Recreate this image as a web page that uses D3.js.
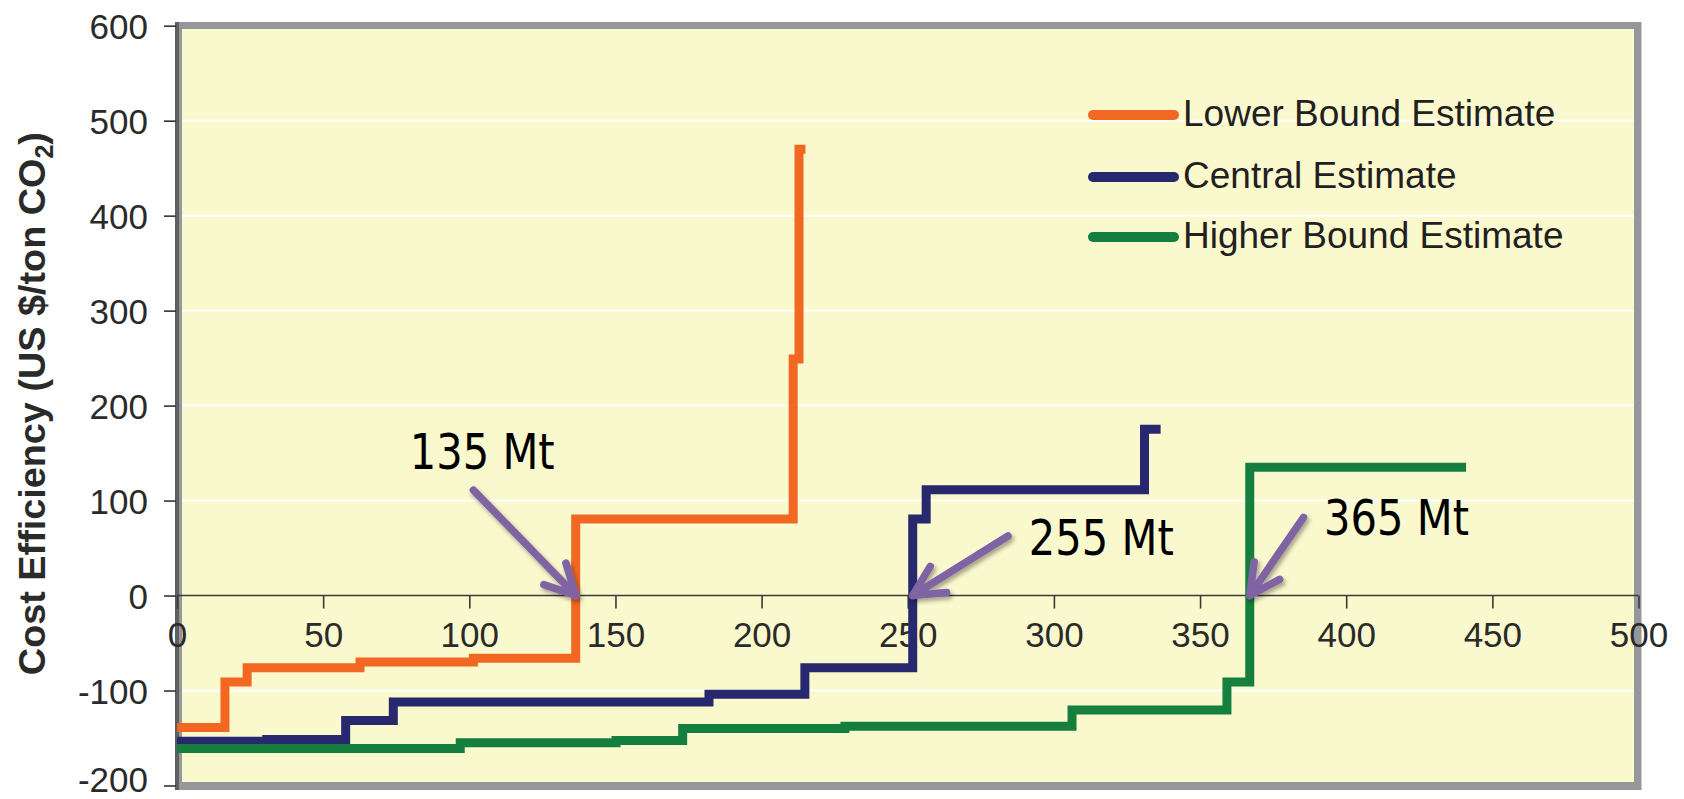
<!DOCTYPE html>
<html>
<head>
<meta charset="utf-8">
<script src="https://cdn.jsdelivr.net/npm/d3@7"></script>
<style>
  html, body { margin: 0; padding: 0; background: #ffffff; }
  svg { display: block; }
</style>
</head>
<body>
<svg id="chart" width="1684" height="799"></svg>
<script>
// ---------------- data ----------------
const xTicks = [0, 50, 100, 150, 200, 250, 300, 350, 400, 450, 500];
const yTicks = [-200, -100, 0, 100, 200, 300, 400, 500, 600];
const gridValues = [-100, 100, 200, 300, 400, 500];

const seriesNames = ["Lower Bound Estimate", "Central Estimate", "Higher Bound Estimate"];
const seriesColors = ["#f26722", "#27286e", "#157f3f"];

// step breakpoints (cumulative Mt) and cost values (US $/ton CO2)
const lowerX   = [0, 16.4, 24, 62.6, 101.4, 136.4, 210.8, 212.8, 215];
const lowerY   = [-139, -91, -76, -70, -66, 80.5, 249, 470, 470];
const centralX = [0, 30.7, 57.7, 74, 182, 214.8, 251.7, 256.3, 331, 336.5];
const centralY = [-153.5, -151.5, -131.5, -112, -104, -76, 80.5, 111.5, 175, 175];
const higherX  = [0, 96.9, 150.2, 173, 228.5, 306.2, 359.2, 367, 441];
const higherY  = [-161, -155, -152.5, -140, -137.5, -120.5, -91, 135, 135];

// annotations (data coordinates)
const annLabels = ["135 Mt", "255 Mt", "365 Mt"];
const annTipX   = [136.5, 251.7, 367];
const annTipY   = [0, 0, 0];
const annTailX  = [101.4, 284.3, 385.4];
const annTailY  = [111, 62.7, 82.3];
const annTextX  = [79.6, 291.4, 392.4];
const annTextY  = [133.4, 42.6, 63.7];

// ---------------- scales ----------------
const svg = d3.select("#chart");
const x = d3.scaleLinear().domain([0, 500]).range([177, 1638.5]);
const y = d3.scaleLinear().domain([-200, 600]).range([785.5, 25.7]);

const tickFont = "'Liberation Sans', Arial, Helvetica, sans-serif";

// ---------------- frame ----------------
const fx0 = x(0) - 2, fx1 = x(500) + 3, fy0 = y(600) - 3.7, fy1 = y(-200) + 4.5;
svg.append("rect")
  .attr("x", fx0).attr("y", fy0)
  .attr("width", fx1 - fx0).attr("height", fy1 - fy0)
  .attr("fill", "#96979a");
svg.append("rect")
  .attr("x", x(0) + 5).attr("y", y(600) + 3.3)
  .attr("width", x(500) - 4.5 - (x(0) + 5)).attr("height", y(-200) - 3.5 - (y(600) + 3.3))
  .attr("fill", "#faf8cd");

// gridlines
svg.append("g").selectAll("line").data(gridValues).join("line")
  .attr("x1", x(0) + 5).attr("x2", x(500) - 4.5)
  .attr("y1", d => y(d)).attr("y2", d => y(d))
  .attr("stroke", "#ffffff").attr("stroke-width", 2);

// left axis line
svg.append("line")
  .attr("x1", x(0)).attr("x2", x(0))
  .attr("y1", fy0).attr("y2", fy1)
  .attr("stroke", "#5e5f61").attr("stroke-width", 4);

// y axis
const yAxis = d3.axisLeft(y).tickValues(yTicks).tickSize(12).tickPadding(16)
  .tickFormat(d => String(d));
const gy = svg.append("g").attr("transform", `translate(${x(0) - 1},0)`).call(yAxis);
gy.select(".domain").remove();
gy.selectAll(".tick line").attr("stroke", "#333").attr("stroke-width", 1.6);
gy.selectAll(".tick text")
  .attr("font-family", tickFont).attr("font-size", 35).attr("fill", "#2a2a2a")
  .attr("dy", d => d === -200 ? "0.18em" : "0.36em");

// x axis at y = 0
const xAxis = d3.axisBottom(x).tickValues(xTicks).tickSize(13).tickPadding(0)
  .tickFormat(d => String(d));
const gx = svg.append("g").attr("transform", `translate(0,${y(0)})`).call(xAxis);
gx.select(".domain").attr("stroke", "#3a3a3a").attr("stroke-width", 1.6)
  .attr("d", `M${x(0)},0H${x(500)}`);
gx.selectAll(".tick line").attr("stroke", "#3a3a3a").attr("stroke-width", 1.6);
gx.selectAll(".tick text")
  .attr("font-family", tickFont).attr("font-size", 35).attr("fill", "#2a2a2a")
  .attr("y", 51).attr("dy", 0);

// y axis title
const title = svg.append("text")
  .attr("transform", `translate(45,${(y(-200) + y(600)) / 2 - 2}) rotate(-90)`)
  .attr("text-anchor", "middle")
  .attr("font-family", tickFont).attr("font-weight", "bold").attr("font-size", 37.8)
  .attr("fill", "#2a2a2a");
title.append("tspan").text("Cost Efficiency (US $/ton CO");
title.append("tspan").attr("font-size", 25).attr("dy", 8).text("2");
title.append("tspan").attr("dy", -8).text(")");

// ---------------- series ----------------
const line = d3.line().x(d => x(d[0])).y(d => y(d[1])).curve(d3.curveStepAfter);
const seriesData = [
  d3.zip(lowerX, lowerY),
  d3.zip(centralX, centralY),
  d3.zip(higherX, higherY)
];
svg.append("g").selectAll("path").data(seriesData).join("path")
  .attr("d", d => line(d))
  .attr("fill", "none")
  .attr("stroke", (d, i) => seriesColors[i])
  .attr("stroke-width", 9)
  .attr("stroke-linejoin", "miter")
  .attr("stroke-linecap", "butt");

// ---------------- legend ----------------
const legendRowY = [115, 177, 237];
const lg = svg.append("g");
seriesNames.forEach((name, i) => {
  lg.append("line")
    .attr("x1", 1093).attr("x2", 1174)
    .attr("y1", legendRowY[i]).attr("y2", legendRowY[i])
    .attr("stroke", seriesColors[i]).attr("stroke-width", 10)
    .attr("stroke-linecap", "round");
  lg.append("text")
    .attr("x", 1183).attr("y", legendRowY[i] + 11)
    .attr("font-family", tickFont).attr("font-size", 37).attr("fill", "#231f20")
    .text(name);
});

// ---------------- annotations ----------------
const defs = svg.append("defs");
const filt = defs.append("filter").attr("id", "shadow")
  .attr("x", "-20%").attr("y", "-20%").attr("width", "150%").attr("height", "150%");
filt.append("feDropShadow").attr("dx", 2).attr("dy", 3).attr("stdDeviation", 2)
  .attr("flood-color", "#000").attr("flood-opacity", 0.35);

const annG = svg.append("g");
annLabels.forEach((lab, i) => {
  const tx = x(annTipX[i]), ty = y(annTipY[i]);
  const sx = x(annTailX[i]), sy = y(annTailY[i]);
  const ang = Math.atan2(sy - ty, sx - tx);
  const armLen = 34, half = 27 * Math.PI / 180;
  const a1x = tx + armLen * Math.cos(ang + half), a1y = ty + armLen * Math.sin(ang + half);
  const a2x = tx + armLen * Math.cos(ang - half), a2y = ty + armLen * Math.sin(ang - half);
  annG.append("path")
    .attr("d", `M${sx},${sy}L${tx},${ty}M${a1x},${a1y}L${tx},${ty}L${a2x},${a2y}`)
    .attr("fill", "none")
    .attr("stroke", "#8064a2").attr("stroke-width", 7.5)
    .attr("stroke-linecap", "round").attr("stroke-linejoin", "round")
    .attr("filter", "url(#shadow)");
  annG.append("text")
    .attr("x", x(annTextX[i])).attr("y", y(annTextY[i]))
    .attr("font-family", "'DejaVu Sans', Verdana, sans-serif")
    .attr("font-size", 49).attr("fill", "#000")
    .attr("textLength", 145).attr("lengthAdjust", "spacingAndGlyphs")
    .text(lab);
});
</script>
</body>
</html>
